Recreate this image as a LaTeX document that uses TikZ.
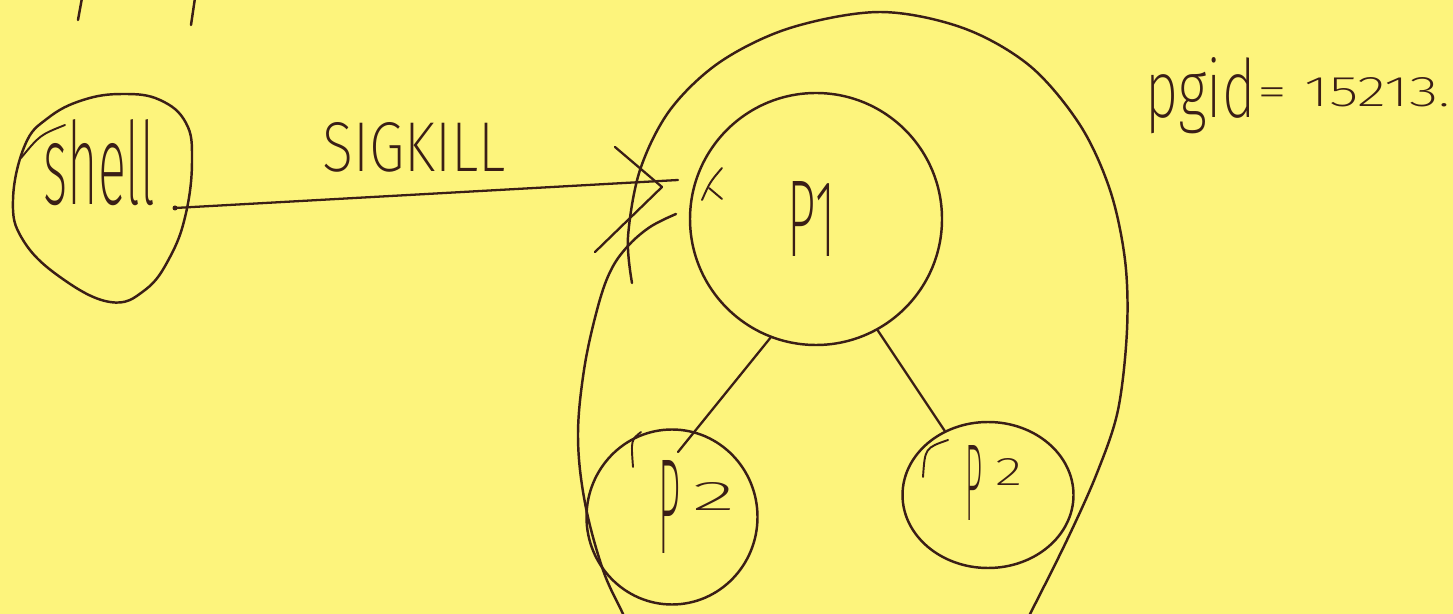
\documentclass[tikz,border=0pt]{standalone}
\usepackage{fontspec}
\usepackage{graphicx}
\newfontfamily\hand{Fira Sans ExtraLight}
\usetikzlibrary{shapes.geometric}
\newlength{\pxu}
\setlength{\pxu}{0.02cm}
\definecolor{paper}{RGB}{253,244,124}
\definecolor{ink}{RGB}{58,30,22}

\begin{document}
\begin{tikzpicture}[x=0.02cm, y=-0.02cm, line cap=round, line join=round,
  pen/.style={draw=ink, line width=1.4pt},
  proc/.style={pen, ellipse, inner sep=0pt},
  link/.style={draw=ink, line width=1.3pt},
  tick/.style={draw=ink, line width=1.1pt},
  word/.style={inner sep=0pt, anchor=base west, text=ink, font=\hand}]

% sheet of paper
\fill[paper] (0,0) rectangle (1453,614);
\useasboundingbox (0,0) rectangle (1453,614);
\clip (0,0) rectangle (1453,614);

% stray strokes along the top edge
\draw[pen] (82,-2) -- (78,20);
\draw[pen] (195,-2) -- (191,25);

% the shell process
\draw[pen] plot[smooth cycle, tension=0.7] coordinates
  {(13,200) (23,240) (60,277) (110,302) (145,290) (170,257) (186,213)
   (192,160) (186,123) (160,100) (123,94) (83,100) (48,118) (25,145)};
\draw[tick] (65,125) .. controls (40,135) .. (21,158);
\node[word] (shelltxt) at (43,205) {\resizebox{112\pxu}{85\pxu}{shell}};

% process group pgid = 15213
\draw[pen] plot[smooth, tension=0.55] coordinates
  {(632,283) (628,237) (640,170) (670,110) (720,62) (790,28) (880,12)
   (963,28) (1030,66) (1080,125) (1110,190) (1125,260) (1127,330)
   (1118,410) (1097,473) (1067,540) (1030,614) (1020,632)};
\draw[pen] plot[smooth, tension=0.6] coordinates
  {(676,214) (650,227) (627,247) (610,272) (597,310) (584,370)
   (578,437) (585,503) (603,570) (623,614) (630,632)};

% processes
\node[proc, minimum width=252\pxu, minimum height=252\pxu] (p1) at (816,219) {};
\node[proc, minimum width=171\pxu, minimum height=175\pxu] (p2l) at (672,517) {};
\node[proc, minimum width=171\pxu, minimum height=146\pxu] (p2r) at (988,495) {};

\draw[tick] (722,168) .. controls (710,182) .. (702,200);
\draw[tick] (709,188) -- (722,199);
\draw[tick] (641,432) .. controls (631,440) .. (633,467);
\draw[tick] (948,440) .. controls (925,448) .. (923,477);

\node[word] (p1txt) at (787,257) {\resizebox{48\pxu}{75\pxu}{P1}};
\node[word] (p2ltxt) at (658,553)
  {\resizebox{22\pxu}{93\pxu}{P}\hspace{12\pxu}\raisebox{43\pxu}{\resizebox{43\pxu}{28\pxu}{2}}};
\node[word] (p2rtxt) at (965,520)
  {\resizebox{17\pxu}{75\pxu}{P}\hspace{13\pxu}\raisebox{35\pxu}{\resizebox{27\pxu}{27\pxu}{2}}};

% parent to children
\coordinate (p2ltop) at (678,452);
\draw[link] (p1.-111) -- (p2ltop);
\draw[link] (p1.-61) -- (p2r.124);

% the signal sent by the shell
\coordinate (shellport) at (175,208);
\coordinate (tip) at (662,187);
\coordinate (overrun) at (678,180);
\fill[ink] (shellport) circle (2.5);
\draw[link] (shellport) -- (overrun);
\draw[link] (tip) -- ++(-47,-40);
\draw[link] (tip) -- ++(-67,65);
\node[word] (sig) at (322,172) {\resizebox{183\pxu}{49\pxu}{SIGKILL}};

% group id
\node[word] (pgid) at (1145,118)
  {\resizebox{110\pxu}{60\pxu}{pgid}\hspace{2\pxu}\raisebox{11\pxu}{\resizebox{193\pxu}{29\pxu}{= 15213.}}};
\end{tikzpicture}
\end{document}
